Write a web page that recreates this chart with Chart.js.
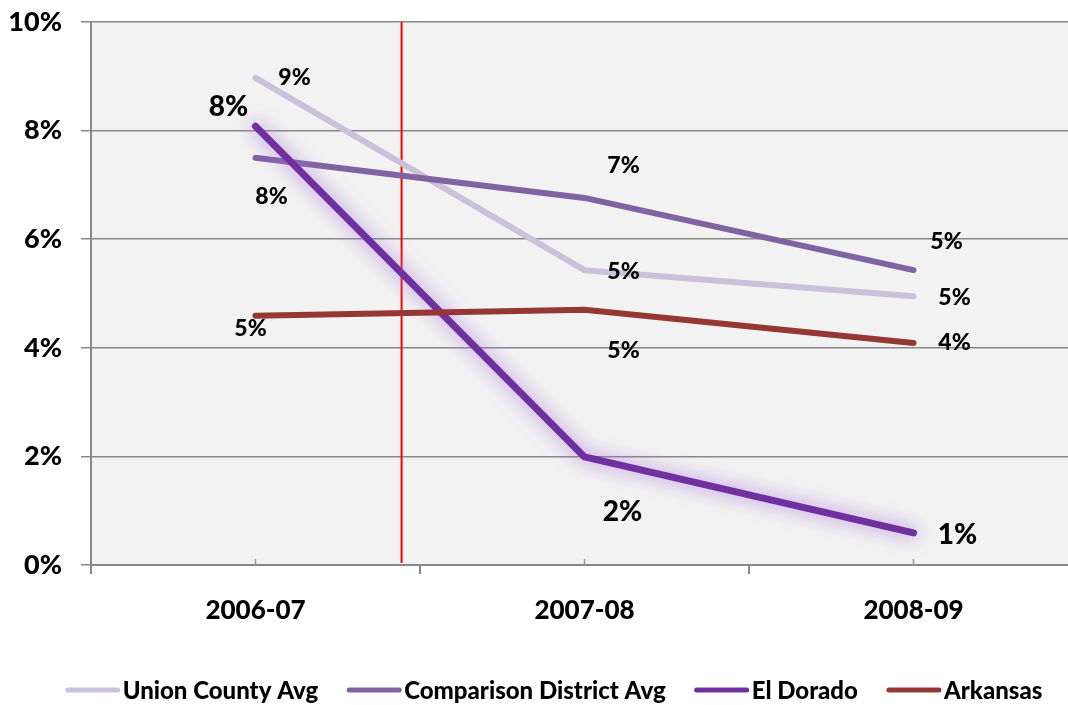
<!DOCTYPE html>
<html>
<head>
<meta charset="utf-8">
<script src="https://cdn.jsdelivr.net/npm/chart.js@4/dist/chart.umd.min.js"></script>
<style>
  html, body { margin: 0; padding: 0; background: #fff; overflow: hidden; }
  #wrap { width: 1068px; height: 705px; overflow: hidden; position: relative; }
  canvas { position: absolute; left: 0; top: 0; }
</style>
</head>
<body>
<div id="wrap"><canvas id="chart" width="1100" height="705"></canvas></div>
<script>
// Data (percent)
const categories = ['2006-07', '2007-08', '2008-09'];
const seriesNames = ['Union County Avg', 'Comparison District Avg', 'El Dorado', 'Arkansas'];
const unionCountyAvg = [8.97, 5.43, 4.95];
const comparisonDistrictAvg = [7.50, 6.76, 5.43];
const elDorado = [8.08, 1.99, 0.59];
const arkansas = [4.59, 4.70, 4.09];
const yTicks = [0, 2, 4, 6, 8, 10];

// styling
const colors = ['#CCC1DA', '#8064A2', '#7030A0', '#953735'];
const labelOffsets = [
    [[39, 0], [39, 1], [41, 1]],
    [[16, 39], [39, -32], [33, -29]],
    [[-27, -19], [38, 55], [44, 2]],
    [[-5, 13], [39, 41], [41, 0]]
];
const labelSizes = [23, 23, 28, 23];
const markerAt = 0.444; // red divider, in category units
const FONT = 'Lato, "DejaVu Sans", sans-serif';
const WEIGHT = '900';

const bgPlugin = {
    id: 'plotBg',
    beforeDraw(chart) {
        const a = chart.chartArea, ctx = chart.ctx;
        ctx.save();
        ctx.fillStyle = '#F2F2F2';
        ctx.fillRect(a.left, a.top, a.right - a.left, a.bottom - a.top);
        ctx.restore();
    }
};

const markerPlugin = {
    id: 'marker',
    beforeDatasetsDraw(chart) {
        const a = chart.chartArea, ctx = chart.ctx, xs = chart.scales.x;
        const x = xs.getPixelForValue(markerAt);
        ctx.save();
        ctx.strokeStyle = '#FF0000';
        ctx.lineWidth = 2;
        ctx.beginPath();
        ctx.moveTo(x, a.top);
        ctx.lineTo(x, a.bottom - 2);
        ctx.stroke();
        // small inner ticks at the category centres
        ctx.strokeStyle = '#999';
        ctx.lineWidth = 1.5;
        categories.forEach((c, i) => {
            const cx = xs.getPixelForValue(i);
            ctx.beginPath();
            ctx.moveTo(cx, a.bottom);
            ctx.lineTo(cx, a.bottom - 6);
            ctx.stroke();
        });
        ctx.restore();
    }
};

const glowPlugin = {
    id: 'glow',
    beforeDatasetDraw(chart, args) {
        if (args.index !== 2) return;
        const ctx = chart.ctx;
        ctx.save();
        ctx.shadowColor = 'rgba(165, 115, 215, 0.95)';
        ctx.shadowBlur = 18;
    },
    afterDatasetDraw(chart, args) {
        if (args.index !== 2) return;
        chart.ctx.restore();
    }
};

const labelPlugin = {
    id: 'valueLabels',
    afterDatasetsDraw(chart) {
        const ctx = chart.ctx;
        ctx.save();
        ctx.fillStyle = '#000';
        ctx.textAlign = 'center';
        ctx.textBaseline = 'middle';
        chart.data.datasets.forEach((ds, di) => {
            const meta = chart.getDatasetMeta(di);
            ctx.font = WEIGHT + ' ' + labelSizes[di] + 'px ' + FONT;
            meta.data.forEach((pt, i) => {
                const off = labelOffsets[di][i];
                ctx.fillText(Math.round(ds.data[i]) + '%', pt.x + off[0], pt.y + off[1]);
            });
        });
        ctx.restore();
    }
};

const legendPlugin = {
    id: 'bottomLegend',
    afterDraw(chart) {
        const ctx = chart.ctx;
        const y = 690, lineW = 54, gapText = 3, gapItem = 29, centerX = 554;
        ctx.save();
        ctx.font = WEIGHT + ' 24px ' + FONT;
        ctx.textBaseline = 'middle';
        const items = chart.data.datasets.map(ds => ({ label: ds.label, color: ds.borderColor, w: ctx.measureText(ds.label).width }));
        let total = items.reduce((s, it) => s + lineW + gapText + it.w, 0) + gapItem * (items.length - 1);
        let x = centerX - total / 2;
        items.forEach(it => {
            ctx.strokeStyle = it.color;
            ctx.lineWidth = 5;
            ctx.lineCap = 'round';
            ctx.beginPath();
            ctx.moveTo(x + 2, y);
            ctx.lineTo(x + lineW - 2, y);
            ctx.stroke();
            ctx.fillStyle = '#000';
            ctx.fillText(it.label, x + lineW + gapText, y + 1);
            x += lineW + gapText + it.w + gapItem;
        });
        ctx.restore();
    }
};

const seriesData = [unionCountyAvg, comparisonDistrictAvg, elDorado, arkansas];

new Chart(document.getElementById('chart'), {
    type: 'line',
    data: {
        labels: categories,
        datasets: seriesData.map((d, i) => ({
            label: seriesNames[i],
            data: d,
            borderColor: colors[i],
            backgroundColor: colors[i],
            borderWidth: i === 2 ? 7 : 6,
            borderCapStyle: 'round',
            borderJoinStyle: 'round',
            pointRadius: 0,
            tension: 0,
            order: seriesData.length - i
        }))
    },
    options: {
        responsive: false,
        animation: false,
        devicePixelRatio: 1,
        layout: { padding: { top: 22, right: 22, bottom: 60, left: 0 } },
        plugins: {
            legend: { display: false },
            tooltip: { enabled: false }
        },
        scales: {
            x: {
                offset: true,
                grid: { offset: true, drawOnChartArea: false, drawTicks: true, tickLength: 9, color: '#888', lineWidth: 2 },
                border: { display: true, color: '#888', width: 2 },
                ticks: { font: { family: FONT, size: 26, weight: WEIGHT }, color: '#000', padding: 21 },
                afterFit(scale) {
                    scale.height = 80;
                    scale.paddingLeft = 0;
                    scale.paddingRight = 0;
                }
            },
            y: {
                min: 0,
                max: 10,
                afterBuildTicks(scale) { scale.ticks = yTicks.map(v => ({ value: v })); },
                grid: { color: '#888', lineWidth: 1.5, tickLength: 10 },
                border: { display: true, color: '#888', width: 2 },
                ticks: {
                    font: { family: FONT, size: 27, weight: WEIGHT },
                    color: '#000',
                    padding: 19,
                    callback: v => v + '%'
                },
                afterFit(scale) {
                    scale.width = 91;
                    scale.paddingTop = 0;
                    scale.paddingBottom = 0;
                }
            }
        }
    },
    plugins: [bgPlugin, markerPlugin, glowPlugin, labelPlugin, legendPlugin]
});
</script>
</body>
</html>
